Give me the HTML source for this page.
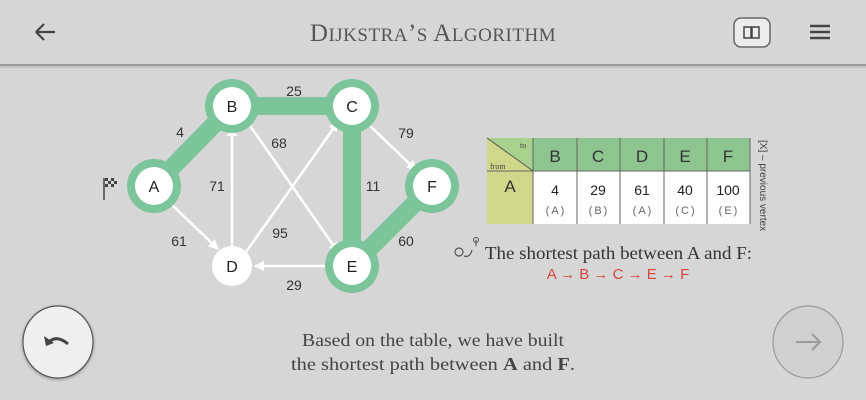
<!DOCTYPE html>
<html><head><meta charset="utf-8"><style>
html,body{margin:0;padding:0;width:866px;height:400px;overflow:hidden;background:#d6d6d6;font-family:"Liberation Sans",sans-serif}
</style></head><body>
<svg width="866" height="400" viewBox="0 0 866 400" xmlns="http://www.w3.org/2000/svg">
<defs>
<marker id="ar" viewBox="0 0 10 10" refX="9" refY="5" markerWidth="4" markerHeight="4" orient="auto"><path d="M0,0 L10,5 L0,10 z" fill="#fff"/></marker>
<filter id="sh" x="-20%" y="-20%" width="140%" height="140%"><feDropShadow dx="0" dy="1" stdDeviation="1.5" flood-color="#000" flood-opacity="0.35"/></filter>
</defs>
<rect width="866" height="400" fill="#d6d6d6"/>
<rect x="0" y="64" width="866" height="3" fill="#9a9a9a"/>
<rect x="0" y="66" width="866" height="2" fill="#c4c4c4"/>
<!-- header -->
<path d="M36,32 H55 M36,32 L44,24 M36,32 L44,40" stroke="#444" stroke-width="2.2" fill="none"/>
<text x="433" y="41" text-anchor="middle" font-family="Liberation Serif,serif" font-size="25" fill="#555" letter-spacing="0.5">D<tspan font-size="19">IJKSTRA</tspan>’<tspan font-size="19">S</tspan> A<tspan font-size="19">LGORITHM</tspan></text>
<rect x="734" y="18" width="36" height="29" rx="7" fill="#ececec" stroke="#666" stroke-width="1.5"/>
<path d="M744,27 h7 v11 h-7 z M752,27 h7 v11 h-7 z" fill="none" stroke="#444" stroke-width="1.5"/>
<path d="M810,26 h20 M810,32 h20 M810,38 h20" stroke="#444" stroke-width="2.6"/>
<!-- green path -->
<g stroke="#7cc49a" stroke-width="18" stroke-linecap="round" fill="none">
<path d="M154,186 L232,106 L352,106 L352,266 L432,186"/>
</g>
<!-- white edges -->
<g stroke="#fff" stroke-width="2.5" fill="none" marker-end="url(#ar)">
<path d="M170,203 L218,249"/>
<path d="M232,248 L232,127"/>
<path d="M246,252 L338,122"/>
<path d="M246,120 L338,252"/>
<path d="M366,122 L416,170"/>
<path d="M334,266 L255,266"/>
</g>
<path d="M226,131 h12" stroke="#fff" stroke-width="2"/>
<!-- nodes -->
<g fill="#7cc49a"><circle cx="154" cy="186" r="27"/><circle cx="232" cy="106" r="27"/><circle cx="352" cy="106" r="27"/><circle cx="352" cy="266" r="27"/><circle cx="432" cy="186" r="27"/></g>
<g fill="#fff"><circle cx="154" cy="186" r="19"/><circle cx="232" cy="106" r="19"/><circle cx="352" cy="106" r="19"/><circle cx="352" cy="266" r="19"/><circle cx="432" cy="186" r="19"/><circle cx="232" cy="266" r="20"/></g>
<g font-size="16" fill="#222" text-anchor="middle">
<text x="154" y="192">A</text><text x="232" y="112">B</text><text x="352" y="112">C</text><text x="232" y="272">D</text><text x="352" y="272">E</text><text x="432" y="192">F</text>
</g>
<g font-size="14" fill="#333" text-anchor="middle">
<text x="180" y="137">4</text><text x="294" y="96">25</text><text x="406" y="138">79</text><text x="279" y="148">68</text>
<text x="217" y="191">71</text><text x="373" y="191">11</text><text x="179" y="246">61</text><text x="280" y="238">95</text>
<text x="406" y="246">60</text><text x="294" y="290">29</text>
</g>
<!-- flag -->
<path d="M104,178 V200" stroke="#444" stroke-width="1.5"/>
<g fill="#444"><rect x="105" y="178" width="3" height="3"/><rect x="111" y="178" width="3" height="3"/><rect x="108" y="181" width="3" height="3"/><rect x="114" y="181" width="3" height="3"/><rect x="105" y="184" width="3" height="3"/><rect x="111" y="184" width="3" height="3"/></g>
<!-- table -->
<rect x="487" y="138" width="46" height="33" fill="#a9d18e"/>
<path d="M487,138 L533,171 L487,171 z" fill="#cfd88a"/>
<rect x="533" y="138" width="217" height="33" fill="#8ec48f"/>
<rect x="487" y="171" width="46" height="53" fill="#cfd88a"/>
<rect x="533" y="171" width="217" height="53" fill="#fff"/>
<path d="M487,138 L533,171" stroke="#555" stroke-width="1"/>
<g stroke="#666" stroke-width="1"><path d="M533,138 V224 M577,138 V224 M620,138 V224 M664,138 V224 M707,138 V224 M750,138 V224 M487,171 H750"/></g>
<text x="520" y="148" font-size="8" fill="#444" font-family="Liberation Serif,serif">to</text>
<text x="490" y="169" font-size="8" fill="#444" font-family="Liberation Serif,serif">from</text>
<g font-size="17" fill="#333" text-anchor="middle"><text x="555" y="162">B</text><text x="598" y="162">C</text><text x="642" y="162">D</text><text x="685" y="162">E</text><text x="728" y="162">F</text><text x="510" y="192">A</text></g>
<g font-size="14" fill="#222" text-anchor="middle"><text x="555" y="195">4</text><text x="598" y="195">29</text><text x="642" y="195">61</text><text x="685" y="195">40</text><text x="728" y="195">100</text></g>
<g font-size="11" fill="#666" text-anchor="middle" letter-spacing="2"><text x="556" y="214">(A)</text><text x="599" y="214">(B)</text><text x="643" y="214">(A)</text><text x="686" y="214">(C)</text><text x="729" y="214">(E)</text></g>
<text transform="translate(760,140) rotate(90)" font-size="10" fill="#444">[X] – previous vertex</text>
<!-- path text -->
<circle cx="459" cy="252" r="4" fill="none" stroke="#555" stroke-width="1.2"/><path d="M464,256 q6,2 8,-6 M476,240 v6" stroke="#555" stroke-width="1.2" fill="none"/><circle cx="476" cy="240" r="2.5" fill="none" stroke="#555" stroke-width="1"/>
<text x="485" y="259" font-family="Liberation Serif,serif" font-size="17.5" fill="#333" textLength="267" lengthAdjust="spacingAndGlyphs">The shortest path between A and F:</text>
<text x="618" y="279" text-anchor="middle" font-size="15" fill="#d9453d">A → B → C → E → F</text>
<!-- bottom -->
<ellipse cx="58" cy="342" rx="35" ry="36" fill="#efefef" stroke="#555" stroke-width="1.2" filter="url(#sh)"/>
<path d="M48,343 q8,-9 20,1" stroke="#444" stroke-width="3" fill="none"/><path d="M44,336 l2,10 l8,-3 z" fill="#444"/>
<ellipse cx="808" cy="342" rx="35" ry="36" fill="#d0d0d0" stroke="#999" stroke-width="1.2"/>
<path d="M796,342 h24 M812,334 l8,8 l-8,8" stroke="#999" stroke-width="2" fill="none"/>
<g font-family="Liberation Serif,serif" font-size="17.5" fill="#444" text-anchor="middle">
<text x="433" y="346" textLength="262" lengthAdjust="spacingAndGlyphs">Based on the table, we have built</text>
<text x="433" y="370" textLength="284" lengthAdjust="spacingAndGlyphs">the shortest path between <tspan font-weight="bold">A</tspan> and <tspan font-weight="bold">F</tspan>.</text>
</g>
</svg>
</body></html>
